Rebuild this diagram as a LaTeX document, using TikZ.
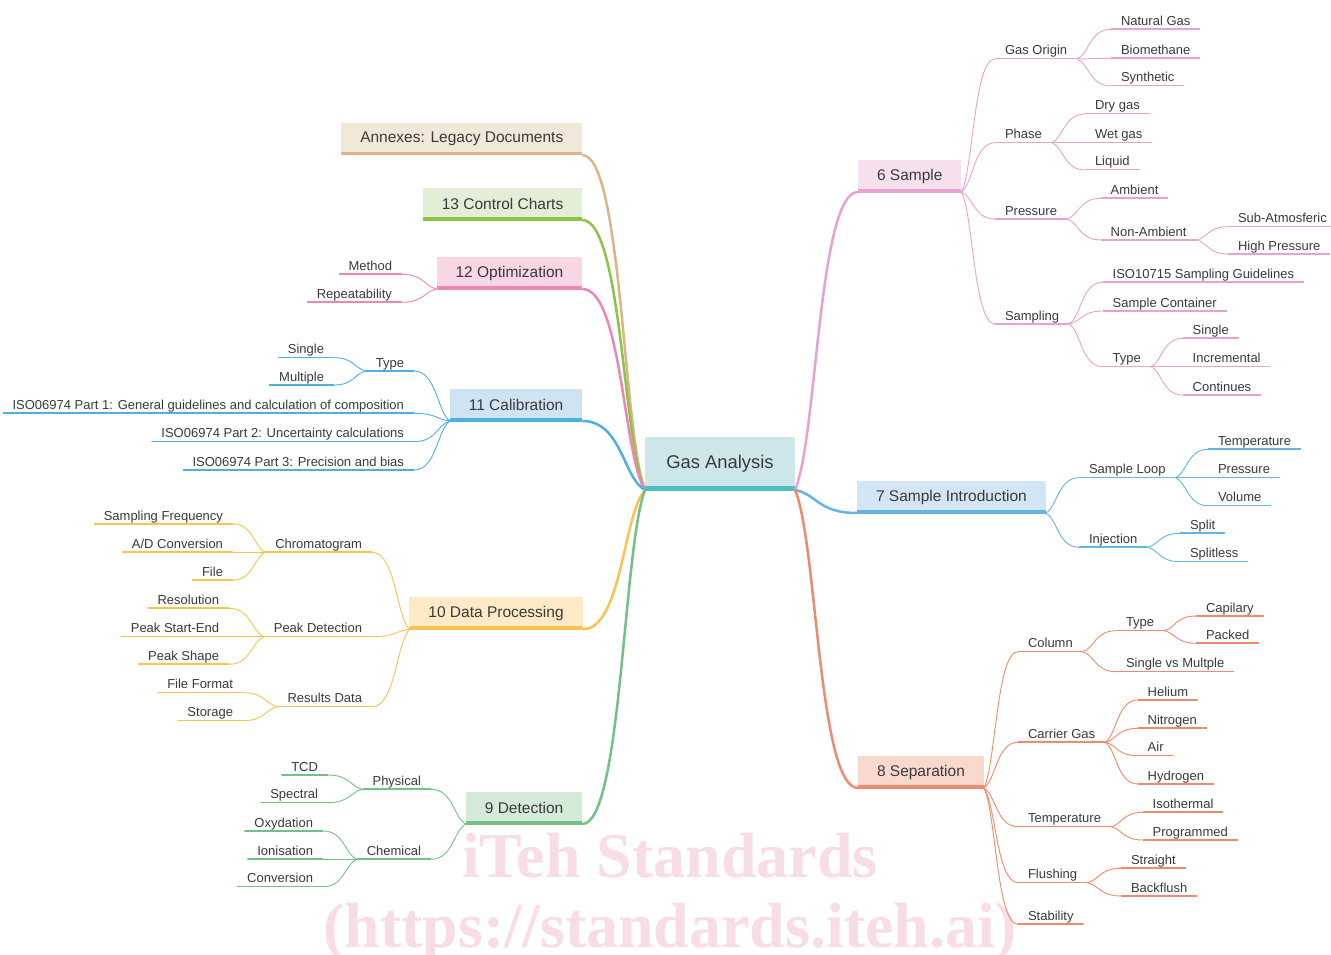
\documentclass[tikz,border=0pt]{standalone}
\usepackage{fontspec}
\setmainfont{Liberation Sans}
\newfontfamily\wmfont{Liberation Serif}
\usetikzlibrary{calc}
\definecolor{txt}{HTML}{3A3A3A}
\definecolor{wm}{HTML}{F9DDE6}
\definecolor{rootf}{HTML}{CDE6E9}\definecolor{rootl}{HTML}{4FBDBE}
\definecolor{f6}{HTML}{F6E0EE}\definecolor{c6}{HTML}{E8A2CF}
\definecolor{f7}{HTML}{D3E6F5}\definecolor{c7}{HTML}{64B4E6}
\definecolor{f8}{HTML}{F9D8CE}\definecolor{c8}{HTML}{F08A6C}
\definecolor{f9}{HTML}{D4EBD7}\definecolor{c9}{HTML}{74C283}
\definecolor{f10}{HTML}{FEEAC6}\definecolor{c10}{HTML}{FCC24F}
\definecolor{f11}{HTML}{CFE4F2}\definecolor{c11}{HTML}{4DB0E0}
\definecolor{f12}{HTML}{F9D6E4}\definecolor{c12}{HTML}{EE86B4}
\definecolor{f13}{HTML}{E2EED6}\definecolor{c13}{HTML}{8CC44A}
\definecolor{fA}{HTML}{F2E8DA}\definecolor{cA}{HTML}{DDB585}
\tikzset{
  curve/.style={to path={let \p1=(\tikztostart), \p2=(\tikztotarget) in
     .. controls ({\x1+0.35*(\x2-\x1)},{\y1+0.17*(\y2-\y1)}) and ({\x1+0.37*(\x2-\x1)},{\y2}) .. (\tikztotarget)}},
  lvlone/.style={line width=2.5pt},
  lvltwo/.style={line width=0.9pt},
  leaf/.style={font=\fontsize{13}{15}\selectfont, text=txt, inner xsep=10pt, inner ysep=1pt,
     text height=10pt, text depth=3pt, outer sep=0pt,
     path picture={\draw[#1, line width=1.8pt] (path picture bounding box.south west) -- (path picture bounding box.south east);}},
  topic/.style 2 args={font=\fontsize{15.5}{18}\selectfont, text=txt, fill=#1, inner xsep=19pt, inner ysep=0pt,
     minimum height=32pt, outer sep=0pt,
     path picture={\draw[#2, line width=6pt] (path picture bounding box.south west) -- (path picture bounding box.south east);}},
  rootbox/.style={font=\fontsize{18.4}{22}\selectfont, text=txt, fill=rootf, inner sep=0pt,
     minimum width=150pt, minimum height=53pt, outer sep=0pt,
     path picture={\draw[rootl, line width=8pt] (path picture bounding box.south west) -- (path picture bounding box.south east);}},
  wmark/.style={font=\wmfont\bfseries\fontsize{64}{70}\selectfont, text=wm, inner sep=0pt}
}
\begin{document}
\begin{tikzpicture}[x=1pt,y=-1pt]
\fill[white] (0,0) rectangle (1331,955);
\useasboundingbox (0,0) rectangle (1331,955);
% watermark
\node[wmark, anchor=base] (wm1) at (670,877) {iTeh Standards};
\node[wmark, anchor=base] (wm2) at (670,947) {(https://standards.iteh.ai)};
% root
\node[rootbox] (root) at (720,463.5) {Gas Analysis};
% level-1 topics
\node[topic={fA}{cA}, anchor=south east] (ann) at (582.3,155) {Annexes: Legacy Documents};
\node[topic={f13}{c13}, anchor=south east] (cc) at (582.3,220) {13 Control Charts};
\node[topic={f12}{c12}, anchor=south east] (opt) at (582.3,289) {12 Optimization};
\node[topic={f11}{c11}, anchor=south east] (cal) at (582.3,421) {11 Calibration};
\node[topic={f10}{c10}, anchor=south east] (dp) at (582.7,629.3) {10 Data Processing};
\node[topic={f9}{c9}, anchor=south east] (det) at (582.3,824) {9 Detection};
\node[topic={f6}{c6}, anchor=south west] (s6) at (858,192) {6 Sample};
\node[topic={f7}{c7}, anchor=south west] (s7) at (857,513) {7 Sample Introduction};
\node[topic={f8}{c8}, anchor=south west] (s8) at (858,788) {8 Separation};
% branch 6
\begin{scope}[every node/.style={leaf=c6, anchor=south west}]
\node (go) at (995,59) {Gas Origin};
\node (ng) at (1111,29.3) {Natural Gas};
\node (bm) at (1111,58.3) {Biomethane};
\node (sy) at (1111,86) {Synthetic};
\node (ph) at (995,142.7) {Phase};
\node (dg) at (1085,114) {Dry gas};
\node (wg) at (1085,142.7) {Wet gas};
\node (lq) at (1085,170) {Liquid};
\node (pr) at (995,219) {Pressure};
\node (am) at (1100.7,198.3) {Ambient};
\node (na) at (1100.7,240) {Non-Ambient};
\node (sa) at (1228,226.7) {Sub-Atmosferic};
\node (hp) at (1228,254) {High Pressure};
\node (sm) at (995,324) {Sampling};
\node (iso) at (1102.7,282.3) {ISO10715 Sampling Guidelines};
\node (sc) at (1102.7,311) {Sample Container};
\node (sty) at (1102.7,366.7) {Type};
\node (ssi) at (1182.7,338.3) {Single};
\node (sin) at (1182.7,366.7) {Incremental};
\node (sco) at (1182.7,395) {Continues};
\end{scope}
% branch 7
\begin{scope}[every node/.style={leaf=c7, anchor=south west}]
\node (sl) at (1079,477.7) {Sample Loop};
\node (te) at (1208,449.3) {Temperature};
\node (pe) at (1208,477.7) {Pressure};
\node (vo) at (1208,505.7) {Volume};
\node (inj) at (1079,547.3) {Injection};
\node (spl) at (1180,533.3) {Split};
\node (spls) at (1180,561.7) {Splitless};
\end{scope}
% branch 8
\begin{scope}[every node/.style={leaf=c8, anchor=south west}]
\node (col) at (1018,651.7) {Column};
\node (cty) at (1116,630.7) {Type};
\node (cap) at (1196,616) {Capilary};
\node (pac) at (1196,643.3) {Packed};
\node (svm) at (1116,671.7) {Single vs Multple};
\node (cg) at (1018,742.3) {Carrier Gas};
\node (he) at (1137.7,700) {Helium};
\node (ni) at (1137.7,728.3) {Nitrogen};
\node (air) at (1137.7,755.7) {Air};
\node (hy) at (1137.7,784) {Hydrogen};
\node (tem) at (1018,826.7) {Temperature};
\node (isot) at (1142.7,812.3) {Isothermal};
\node (pro) at (1142.7,840) {Programmed};
\node (flu) at (1018,882.7) {Flushing};
\node (str) at (1121,868.3) {Straight};
\node (bf) at (1121,896) {Backflush};
\node (stab) at (1018,924.3) {Stability};
\end{scope}
% branch 12
\begin{scope}[every node/.style={leaf=c12, anchor=south east}]
\node (met) at (402,274.3) {Method};
\node (rep) at (402,302.3) {Repeatability};
\end{scope}
% branch 11
\begin{scope}[every node/.style={leaf=c11, anchor=south east}]
\node (cty2) at (414,371) {Type};
\node (csi) at (334,357.7) {Single};
\node (cmu) at (334,385) {Multiple};
\node (pa1) at (414,413.3) {ISO06974 Part 1: General guidelines and calculation of composition};
\node (pa2) at (414,441.7) {ISO06974 Part 2: Uncertainty calculations};
\node (pa3) at (414,470) {ISO06974 Part 3: Precision and bias};
\end{scope}
% branch 10
\begin{scope}[every node/.style={leaf=c10, anchor=south east}]
\node (chr) at (372,552.3) {Chromatogram};
\node (sf) at (233,524) {Sampling Frequency};
\node (ad) at (233,552.3) {A/D Conversion};
\node (fi) at (233,580) {File};
\node (pd) at (372,636.7) {Peak Detection};
\node (res) at (229,608.3) {Resolution};
\node (pse) at (229,636.7) {Peak Start-End};
\node (psh) at (229,664.3) {Peak Shape};
\node (rd) at (372,706.7) {Results Data};
\node (ff) at (243,692.7) {File Format};
\node (sto) at (243,720.7) {Storage};
\end{scope}
% branch 9
\begin{scope}[every node/.style={leaf=c9, anchor=south east}]
\node (phy) at (431,789.3) {Physical};
\node (che) at (431,859.3) {Chemical};
\node (tcd) at (328,775) {TCD};
\node (spe) at (328,802.7) {Spectral};
\node (oxy) at (323,831) {Oxydation};
\node (ion) at (323,859.3) {Ionisation};
\node (con) at (323,886.7) {Conversion};
\end{scope}
% level-1 connectors
\draw[cA, lvlone] (root.south west) to[curve] (ann.south east);
\draw[c13, lvlone] (root.south west) to[curve] (cc.south east);
\draw[c12, lvlone] (root.south west) to[curve] (opt.south east);
\draw[c11, lvlone] (root.south west) to[curve] (cal.south east);
\draw[c10, lvlone] (root.south west) to[curve] (dp.south east);
\draw[c9, lvlone] (root.south west) to[curve] (det.south east);
\draw[c6, lvlone] (root.south east) to[curve] (s6.south west);
\draw[c7, lvlone] (root.south east) to[curve] (s7.south west);
\draw[c8, lvlone] (root.south east) to[curve] (s8.south west);
% right connectors
\foreach \c in {go,ph,pr,sm} \draw[c6, lvltwo] (s6.south east) to[curve] (\c.south west);
\foreach \c in {ng,bm,sy} \draw[c6, lvltwo] (go.south east) to[curve] (\c.south west);
\foreach \c in {dg,wg,lq} \draw[c6, lvltwo] (ph.south east) to[curve] (\c.south west);
\foreach \c in {am,na} \draw[c6, lvltwo] (pr.south east) to[curve] (\c.south west);
\foreach \c in {sa,hp} \draw[c6, lvltwo] (na.south east) to[curve] (\c.south west);
\foreach \c in {iso,sc,sty} \draw[c6, lvltwo] (sm.south east) to[curve] (\c.south west);
\foreach \c in {ssi,sin,sco} \draw[c6, lvltwo] (sty.south east) to[curve] (\c.south west);
\foreach \c in {sl,inj} \draw[c7, lvltwo] (s7.south east) to[curve] (\c.south west);
\foreach \c in {te,pe,vo} \draw[c7, lvltwo] (sl.south east) to[curve] (\c.south west);
\foreach \c in {spl,spls} \draw[c7, lvltwo] (inj.south east) to[curve] (\c.south west);
\foreach \c in {col,cg,tem,flu,stab} \draw[c8, lvltwo] (s8.south east) to[curve] (\c.south west);
\foreach \c in {cty,svm} \draw[c8, lvltwo] (col.south east) to[curve] (\c.south west);
\foreach \c in {cap,pac} \draw[c8, lvltwo] (cty.south east) to[curve] (\c.south west);
\foreach \c in {he,ni,air,hy} \draw[c8, lvltwo] (cg.south east) to[curve] (\c.south west);
\foreach \c in {isot,pro} \draw[c8, lvltwo] (tem.south east) to[curve] (\c.south west);
\foreach \c in {str,bf} \draw[c8, lvltwo] (flu.south east) to[curve] (\c.south west);
% left connectors
\foreach \c in {met,rep} \draw[c12, lvltwo] (opt.south west) to[curve] (\c.south east);
\foreach \c in {cty2,pa1,pa2,pa3} \draw[c11, lvltwo] (cal.south west) to[curve] (\c.south east);
\foreach \c in {csi,cmu} \draw[c11, lvltwo] (cty2.south west) to[curve] (\c.south east);
\foreach \c in {chr,pd,rd} \draw[c10, lvltwo] (dp.south west) to[curve] (\c.south east);
\foreach \c in {sf,ad,fi} \draw[c10, lvltwo] (chr.south west) to[curve] (\c.south east);
\foreach \c in {res,pse,psh} \draw[c10, lvltwo] (pd.south west) to[curve] (\c.south east);
\foreach \c in {ff,sto} \draw[c10, lvltwo] (rd.south west) to[curve] (\c.south east);
\foreach \c in {phy,che} \draw[c9, lvltwo] (det.south west) to[curve] (\c.south east);
\foreach \c in {tcd,spe} \draw[c9, lvltwo] (phy.south west) to[curve] (\c.south east);
\foreach \c in {oxy,ion,con} \draw[c9, lvltwo] (che.south west) to[curve] (\c.south east);
\end{tikzpicture}
\end{document}
